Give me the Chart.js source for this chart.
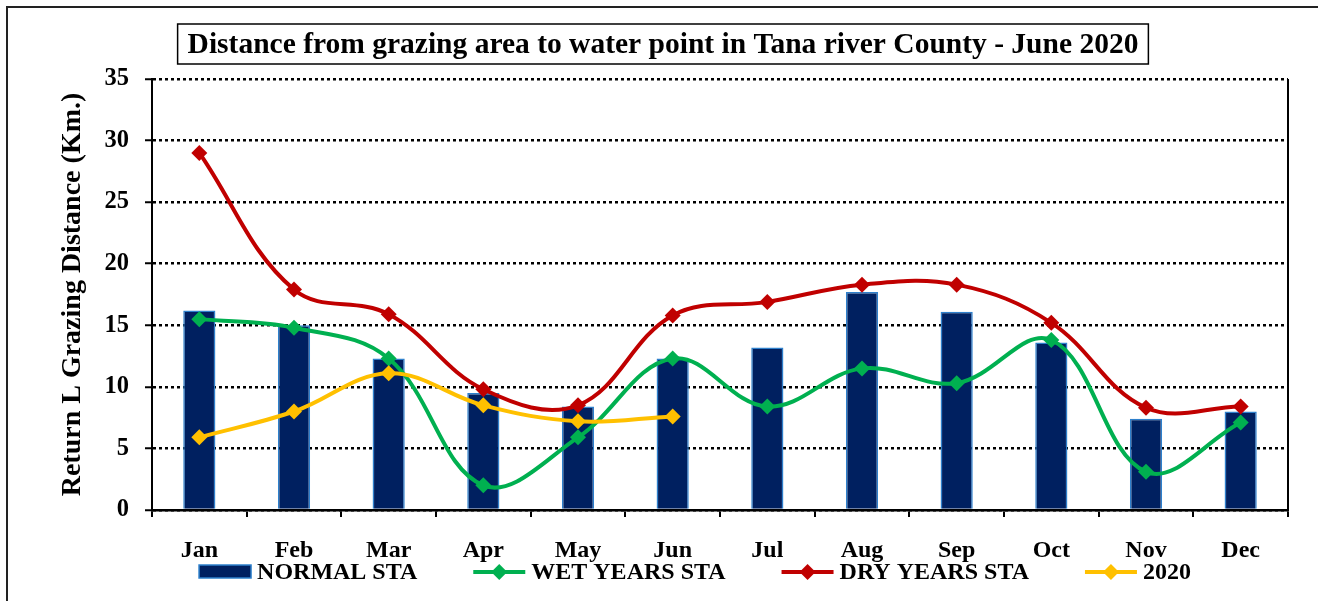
<!DOCTYPE html>
<html>
<head>
<meta charset="utf-8">
<title>Tana river grazing distance</title>
<script src="https://cdn.jsdelivr.net/npm/chart.js@4.4.1/dist/chart.umd.min.js"></script>
<style>
  html, body { margin: 0; padding: 0; background: #fff; }
  canvas { display: block; }
</style>
</head>
<body>
<canvas id="chart" width="1318" height="601"></canvas>
<script>
// chart data
const chartTitle = 'Distance from grazing area to water point in Tana river County - June 2020';
const yAxisTitle = 'Return L Grazing Distance (Km.)';
const months = ['Jan', 'Feb', 'Mar', 'Apr', 'May', 'Jun', 'Jul', 'Aug', 'Sep', 'Oct', 'Nov', 'Dec'];
const normalSta = [16.2, 15.0, 12.3, 9.5, 8.4, 12.3, 13.2, 17.7, 16.1, 13.6, 7.4, 8.0];
const wetYearsSta = [15.5, 14.8, 12.3, 2.0, 5.9, 12.3, 8.4, 11.5, 10.3, 13.8, 3.1, 7.1];
const dryYearsSta = [29.0, 17.9, 15.9, 9.8, 8.5, 15.8, 16.9, 18.3, 18.3, 15.2, 8.3, 8.4];
const year2020 = [5.9, 8.0, 11.1, 8.5, 7.2, 7.6, null, null, null, null, null, null];
const yMin = 0, yMax = 35, yStep = 5;

const serif = "'Liberation Serif', 'Times New Roman', serif";

function lineSet(label, data, color, order) {
  return {
    type: 'line', label, data, order,
    borderColor: color, backgroundColor: color,
    borderWidth: 4, tension: 0.38,
    pointStyle: 'rectRot', pointRadius: 8, pointBorderWidth: 0,
    pointBackgroundColor: color, spanGaps: false
  };
}

// outer frame, title box and right edge of the plot
const framePlugin = {
  id: 'frame',
  afterDraw(chart) {
    const ctx = chart.ctx, a = chart.chartArea;
    ctx.save();
    ctx.strokeStyle = '#222';
    ctx.lineWidth = 2;
    ctx.strokeRect(7, 7, 1400, 700);

    ctx.strokeStyle = '#000';
    ctx.beginPath();
    ctx.moveTo(a.right, a.top);
    ctx.lineTo(a.right, a.bottom);
    ctx.stroke();

    ctx.font = 'bold 29.5px ' + serif;
    ctx.textAlign = 'center';
    ctx.textBaseline = 'middle';
    const w = ctx.measureText(chartTitle).width;
    const cx = 663, cy = 44;
    ctx.fillStyle = '#fff';
    ctx.fillRect(cx - w / 2 - 10, 24, w + 20, 40);
    ctx.lineWidth = 1.5;
    ctx.strokeRect(cx - w / 2 - 10, 24, w + 20, 40);
    ctx.fillStyle = '#000';
    ctx.fillText(chartTitle, cx, cy + 1);
    ctx.restore();
  }
};

// legend drawn under the month labels
const legendPlugin = {
  id: 'bottomLegend',
  afterDraw(chart) {
    const ctx = chart.ctx;
    const sets = chart.data.datasets;
    const sym = 52, gap = 6, spacing = 56, y = 572;
    ctx.save();
    ctx.font = 'bold 24px ' + serif;
    ctx.textBaseline = 'middle';
    const widths = sets.map(d => ctx.measureText(d.label).width);
    let total = widths.reduce((s, w) => s + sym + gap + w, 0) + spacing * (sets.length - 1);
    let x = 695 - total / 2;
    sets.forEach((d, i) => {
      if (d.type === 'line') {
        ctx.strokeStyle = d.borderColor;
        ctx.lineWidth = 4;
        ctx.beginPath();
        ctx.moveTo(x, y);
        ctx.lineTo(x + sym, y);
        ctx.stroke();
        const r = 8, c = x + sym / 2;
        ctx.fillStyle = d.borderColor;
        ctx.beginPath();
        ctx.moveTo(c, y - r); ctx.lineTo(c + r, y); ctx.lineTo(c, y + r); ctx.lineTo(c - r, y);
        ctx.closePath();
        ctx.fill();
      } else {
        ctx.fillStyle = d.backgroundColor;
        ctx.fillRect(x, y - 7, sym, 13);
        ctx.strokeStyle = d.borderColor;
        ctx.lineWidth = 1.5;
        ctx.strokeRect(x, y - 7, sym, 13);
      }
      ctx.fillStyle = '#000';
      ctx.textAlign = 'left';
      ctx.fillText(d.label, x + sym + gap, y + 1);
      x += sym + gap + widths[i] + spacing;
    });
    ctx.restore();
  }
};

new Chart(document.getElementById('chart'), {
  type: 'bar',
  data: {
    labels: months,
    datasets: [
      {
        type: 'bar', label: 'NORMAL STA', data: normalSta, order: 4,
        backgroundColor: '#002060', borderColor: '#2E80CC', borderWidth: 1.5,
        barPercentage: 0.34, categoryPercentage: 1
      },
      lineSet('WET YEARS STA', wetYearsSta, '#00B050', 3),
      lineSet('DRY YEARS STA', dryYearsSta, '#C00000', 2),
      lineSet('2020', year2020, '#FFC000', 1)
    ]
  },
  options: {
    responsive: false,
    animation: false,
    devicePixelRatio: 1,
    layout: { padding: { top: 79, right: 30, left: 0, bottom: 0 } },
    plugins: { legend: { display: false }, title: { display: false }, tooltip: { enabled: false } },
    scales: {
      x: {
        offset: true,
        afterFit(scale) { scale.height = 91; },
        grid: { offset: true, drawOnChartArea: false, drawTicks: true, tickLength: 7, color: '#000', lineWidth: 2 },
        border: { display: true, color: '#000', width: 2.5 },
        ticks: { color: '#000', padding: 19, font: { family: serif, size: 24, weight: 'bold' } }
      },
      y: {
        min: yMin, max: yMax,
        afterFit(scale) { scale.width = 152; },
        grid: { color: '#000', lineWidth: 2.5, tickLength: 7, tickWidth: 2, tickBorderDash: [] },
        border: { display: true, color: '#000', width: 2, dash: [3, 3] },
        ticks: { stepSize: yStep, color: '#000', padding: 16, font: { family: serif, size: 24.5, weight: 'bold' } },
        title: {
          display: true, text: yAxisTitle, color: '#000',
          font: { family: serif, size: 28, weight: 'bold' },
          padding: { top: 56, bottom: 0 }
        }
      }
    }
  },
  plugins: [framePlugin, legendPlugin]
});
</script>
</body>
</html>
